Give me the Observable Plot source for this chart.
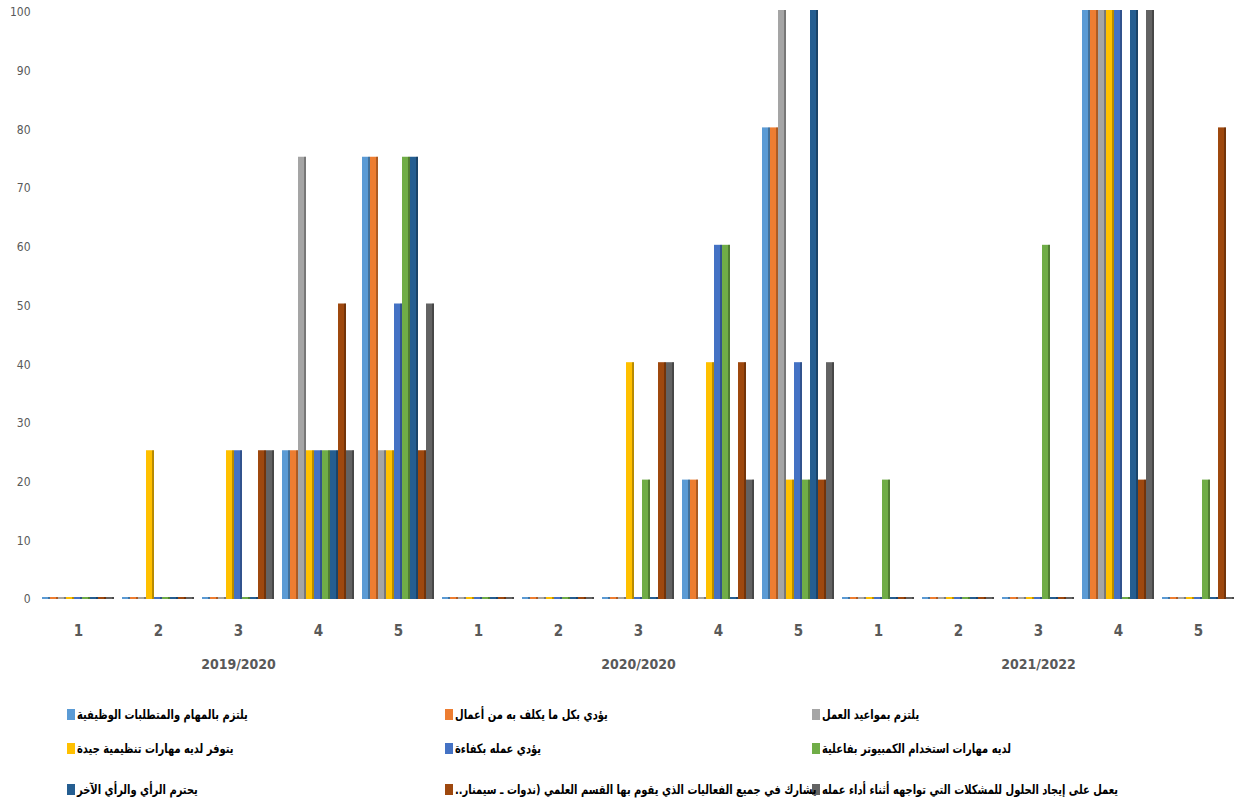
<!DOCTYPE html>
<html>
<head>
<meta charset="utf-8">
<script src="https://cdn.jsdelivr.net/npm/d3@7"></script>
<script src="https://cdn.jsdelivr.net/npm/@observablehq/plot@0.6"></script>
<style>
  html, body { margin: 0; padding: 0; background: #fff; }
  #wrap { position: relative; width: 1245px; height: 805px; overflow: hidden; }
  #chart { position: absolute; left: 0; top: 0; }
  #legend {
    position: absolute; left: 67px; top: 697px;
    display: grid;
    grid-template-columns: 378px 367px 420px;
    grid-template-rows: 34px 34px 48px;
    font-family: "DejaVu Sans Condensed", "DejaVu Sans", sans-serif;
    font-weight: bold; font-size: 13px; color: #000;
  }
  .item { display: flex; align-items: center; white-space: nowrap; }
  .sw { width: 8px; height: 11px; margin-right: 2px; flex: none; }
  .lab { direction: rtl; unicode-bidi: isolate; display: inline-block; transform: scaleX(0.85); transform-origin: left center; }
</style>
</head>
<body>
<div id="wrap">
  <div id="chart"></div>
  <div id="legend"></div>
</div>
<script>
// ---- data ----
const years = ["2019/2020", "2020/2020", "2021/2022"];
const categories = ["1", "2", "3", "4", "5"];
const seriesNames = [
  "يلتزم بالمهام والمتطلبات الوظيفية",
  "يؤدي بكل ما يكلف به من أعمال",
  "يلتزم بمواعيد العمل",
  "يتوفر لديه مهارات تنظيمية جيدة",
  "يؤدي عمله بكفاءة",
  "لديه مهارات استخدام الكمبيوتر بفاعلية",
  "يحترم الرأي والرأي الآخر",
  "يشارك في جميع الفعاليات الذي يقوم بها القسم العلمي (ندوات ـ سيمنار..",
  "يعمل على إيجاد الحلول للمشكلات التي تواجهه أثناء أداء عمله"
];
const seriesColors = ["#5B9BD5", "#ED7D31", "#A5A5A5", "#FFC000", "#4472C4", "#70AD47", "#255E91", "#9E480E", "#636363"];
const yTicks = [0, 10, 20, 30, 40, 50, 60, 70, 80, 90, 100];

// values[year][category] = 9 series values
const values2019 = [
  [0, 0, 0, 0, 0, 0, 0, 0, 0],
  [0, 0, 0, 25, 0, 0, 0, 0, 0],
  [0, 0, 0, 25, 25, 0, 0, 25, 25],
  [25, 25, 75, 25, 25, 25, 25, 50, 25],
  [75, 75, 25, 25, 50, 75, 75, 25, 50]
];
const values2020 = [
  [0, 0, 0, 0, 0, 0, 0, 0, 0],
  [0, 0, 0, 0, 0, 0, 0, 0, 0],
  [0, 0, 0, 40, 0, 20, 0, 40, 40],
  [20, 20, 0, 40, 60, 60, 0, 40, 20],
  [80, 80, 100, 20, 40, 20, 100, 20, 40]
];
const values2021 = [
  [0, 0, 0, 0, 0, 20, 0, 0, 0],
  [0, 0, 0, 0, 0, 0, 0, 0, 0],
  [0, 0, 0, 0, 0, 60, 0, 0, 0],
  [100, 100, 100, 100, 100, 0, 100, 20, 100],
  [0, 0, 0, 0, 0, 20, 0, 80, 0]
];
const allValues = [values2019, values2020, values2021];

// ---- build table ----
const key = (y, c, s) => `${y}|${c}|${s}`;
const rows = [];
const xDomain = [];
years.forEach((yr, yi) => {
  categories.forEach((cat, ci) => {
    seriesNames.forEach((nm, si) => {
      xDomain.push(key(yr, cat, si));
      rows.push({ k: key(yr, cat, si), year: yr, cat, series: nm, value: allValues[yi][ci][si] });
    });
    xDomain.push(key(yr, cat, "gap"));
  });
});
const yearLabels = years.map(yr => ({ k: key(yr, categories[2], 4), label: yr }));

const W = 1245, H = 690, ML = 42, MR = 0;
const bw = (W - ML - MR) / xDomain.length;

const chart = Plot.plot({
  width: W,
  height: H,
  marginLeft: ML,
  marginRight: MR,
  marginTop: 12,
  marginBottom: 91,
  style: { fontFamily: "'Liberation Sans Narrow', 'DejaVu Sans Condensed', sans-serif", background: "#fff", overflow: "visible" },
  x: {
    domain: xDomain, padding: 0, align: 0,
    tickSize: 0, tickPadding: 26, label: null,
    tickFormat: k => { const p = k.split("|"); return p[2] === "4" ? p[1] : ""; }
  },
  y: { domain: [0, 100], ticks: yTicks, tickSize: 0, tickPadding: 12, label: null, tickFormat: d => d },
  color: { domain: seriesNames, range: seriesColors },
  marks: [
    Plot.ruleY(yTicks, { x1: xDomain[0], stroke: "#d9d9d9", strokeWidth: 1.3, insetLeft: -4 }),
    Plot.barY(rows, { x: "k", y: "value", fill: "series", insetTop: -2 }),
    Plot.barY(rows, { x: "k", y: "value", fill: "#000", fillOpacity: 0.28, insetTop: -2, insetLeft: bw - 2 }),
    Plot.text(yearLabels, { x: "k", text: "label", frameAnchor: "bottom", dy: 69, fontSize: 14, fontWeight: "bold", fill: "#595959" })
  ]
});
document.getElementById("chart").appendChild(chart);

// axis text styling
chart.querySelectorAll("[aria-label='x-axis tick label']").forEach(g => {
  g.setAttribute("font-size", "15");
  g.setAttribute("fill", "#595959");
  g.setAttribute("font-weight", "bold");
});
chart.querySelectorAll("[aria-label='y-axis tick label']").forEach(g => {
  g.setAttribute("font-size", "12");
  g.setAttribute("fill", "#595959");
});

// ---- legend ----
const legend = document.getElementById("legend");
seriesNames.forEach((nm, i) => {
  const it = document.createElement("div");
  it.className = "item";
  const sw = document.createElement("span");
  sw.className = "sw";
  sw.style.background = seriesColors[i];
  const lab = document.createElement("span");
  lab.className = "lab";
  lab.textContent = nm;
  it.appendChild(sw);
  it.appendChild(lab);
  legend.appendChild(it);
});
</script>
</body>
</html>
